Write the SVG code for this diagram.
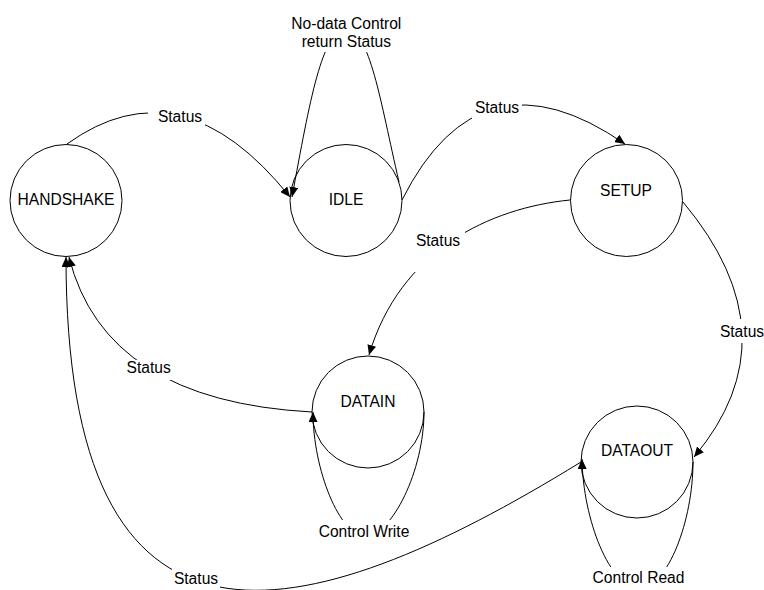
<svg xmlns="http://www.w3.org/2000/svg" width="764" height="590" viewBox="0 0 764 590">
  <defs>
    <marker id="arrow" markerUnits="userSpaceOnUse" markerWidth="11" markerHeight="9" refX="10" refY="4.5" orient="auto">
      <path d="M0,0 L10,4.5 L0,9 z" fill="#000"/>
    </marker>
    <style>
      .state { fill: #fff; stroke: #000; stroke-width: 1; }
      .edge { fill: none; stroke: #000; stroke-width: 1; marker-end: url(#arrow); }
      .txt { font-family: "Liberation Sans", Arial, sans-serif; font-size: 15.6px; fill: #000; text-anchor: middle; }
      .bg { fill: #fff; stroke: none; }
    </style>
  </defs>
  <rect width="764" height="590" fill="#fff"/>

  <!-- transitions -->
  <g id="connectors">
    <!-- HANDSHAKE -> IDLE -->
    <path class="edge" d="M67,144 Q181.5,61.5 290,197"/>
    <!-- IDLE self loop -->
    <path class="edge" d="M399,182 C380,100 370,30 346,30 C322,30 310,100 292,197"/>
    <!-- IDLE -> SETUP -->
    <path class="edge" d="M402,200 Q480.5,44 625,144"/>
    <!-- SETUP -> DATAIN -->
    <path class="edge" d="M570,200 C490,208 400,250 369,355"/>
    <!-- SETUP -> DATAOUT -->
    <path class="edge" d="M683,202 Q795.5,336.5 694,457"/>
    <!-- DATAIN -> HANDSHAKE -->
    <path class="edge" d="M312,412 Q105,401 69,257"/>
    <!-- DATAIN self loop -->
    <path class="edge" d="M424,412 C424,470 392,536 365,536 C340,536 313,470 313,412"/>
    <!-- DATAOUT -> HANDSHAKE -->
    <path class="edge" d="M581,462 C300,635 66,690 66,257"/>
    <!-- DATAOUT self loop -->
    <path class="edge" d="M693,462 C693,520 668,588 639,588 C610,588 583,520 582,459"/>
  </g>

  <!-- transition labels -->
  <g id="edge-labels">
    <rect class="bg" x="289" y="13" width="115" height="39"/>
    <text class="txt" x="346.3" y="28.5">No-data Control</text>
    <text class="txt" x="346.3" y="46.7">return Status</text>

    <rect class="bg" x="148" y="106" width="57" height="21"/>
    <text class="txt" x="180" y="122">Status</text>

    <rect class="bg" x="472" y="98" width="50" height="21"/>
    <text class="txt" x="497" y="113.3">Status</text>

    <rect class="bg" x="413" y="230" width="52" height="42"/>
    <text class="txt" x="438" y="245.7">Status</text>

    <rect class="bg" x="719" y="319" width="45" height="24"/>
    <text class="txt" x="742" y="337">Status</text>

    <rect class="bg" x="127" y="360" width="44" height="20"/>
    <text class="txt" x="148.7" y="372.7">Status</text>

    <rect class="bg" x="316" y="520" width="96" height="22"/>
    <text class="txt" x="364" y="536.7">Control Write</text>

    <rect class="bg" x="172" y="568" width="48" height="22"/>
    <text class="txt" x="196" y="584.3">Status</text>

    <rect class="bg" x="591" y="567" width="95" height="23"/>
    <text class="txt" x="638.5" y="583.3">Control Read</text>
  </g>

  <!-- states -->
  <g id="HANDSHAKE">
    <circle class="state" cx="66" cy="200.5" r="56"/>
    <text class="txt" x="66" y="205">HANDSHAKE</text>
  </g>
  <g id="IDLE">
    <circle class="state" cx="346" cy="200.5" r="56" fill-opacity="0"/>
    <text class="txt" x="346" y="205">IDLE</text>
  </g>
  <g id="SETUP">
    <circle class="state" cx="626.5" cy="200.5" r="56"/>
    <text class="txt" x="626" y="196">SETUP</text>
  </g>
  <g id="DATAIN">
    <circle class="state" cx="368" cy="412" r="56" fill-opacity="0"/>
    <text class="txt" x="368" y="406.7">DATAIN</text>
  </g>
  <g id="DATAOUT">
    <circle class="state" cx="637" cy="462" r="56" fill-opacity="0"/>
    <text class="txt" x="637" y="456">DATAOUT</text>
  </g>
</svg>
